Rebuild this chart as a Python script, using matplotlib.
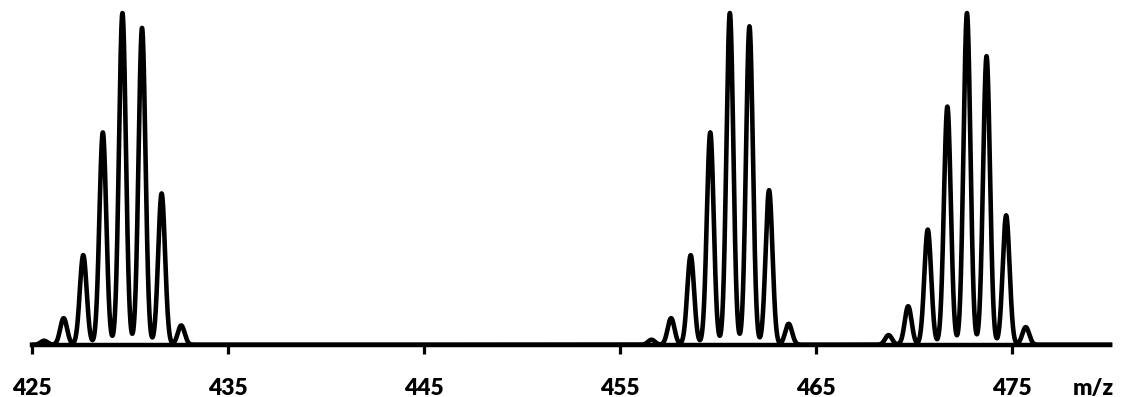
import numpy as np
import matplotlib.pyplot as plt

# isotope clusters: peak m/z and relative intensity (%)
mz_a = [425.6, 426.6, 427.6, 428.6, 429.6, 430.6, 431.6, 432.6]
int_a = [1.2, 8.0, 27.0, 64.0, 100.0, 95.5, 45.6, 5.8]

mz_b = [456.6, 457.6, 458.6, 459.6, 460.6, 461.6, 462.6, 463.6]
int_b = [1.5, 8.0, 27.0, 64.0, 100.0, 96.0, 46.6, 6.3]

mz_c = [468.7, 469.7, 470.7, 471.7, 472.7, 473.7, 474.7, 475.7]
int_c = [2.9, 11.6, 34.7, 71.8, 100.0, 87.0, 39.0, 5.3]

ticks = [425, 435, 445, 455, 465, 475]

peak_mz = np.array(mz_a + mz_b + mz_c)
peak_int = np.array(int_a + int_b + int_c)

# profile spectrum: gaussian line shape on each centroid
sigma = 0.175
x = np.linspace(425, 480, 6000)
y = (peak_int[:, None] * np.exp(-(x[None, :] - peak_mz[:, None]) ** 2 / (2 * sigma ** 2))).sum(axis=0)

fig = plt.figure(figsize=(11.22, 3.97), dpi=100)
ax = fig.add_axes([32.3 / 1122, 52.3 / 397, 1077.7 / 1122, 331.7 / 397])

ax.plot(x, y, color='black', lw=3.3, clip_on=False, solid_joinstyle='round')

ax.set_xlim(425, 480)
ax.set_ylim(0, 100)

for s in ['top', 'right', 'left']:
    ax.spines[s].set_visible(False)
ax.spines['bottom'].set_linewidth(3.2)
ax.set_yticks([])
ax.set_xticks(ticks)
ax.set_xticklabels([str(t) for t in ticks], fontfamily='Lato', fontweight='heavy', fontsize=16.5)
ax.tick_params(axis='x', direction='out', length=6.5, width=2.3, pad=17.5)

fig.text(1093 / 1122, 2 / 397, 'm/z', ha='center', va='baseline',
         fontfamily='Lato', fontweight='heavy', fontsize=16.5)

fig.savefig('out.png', dpi=100)
